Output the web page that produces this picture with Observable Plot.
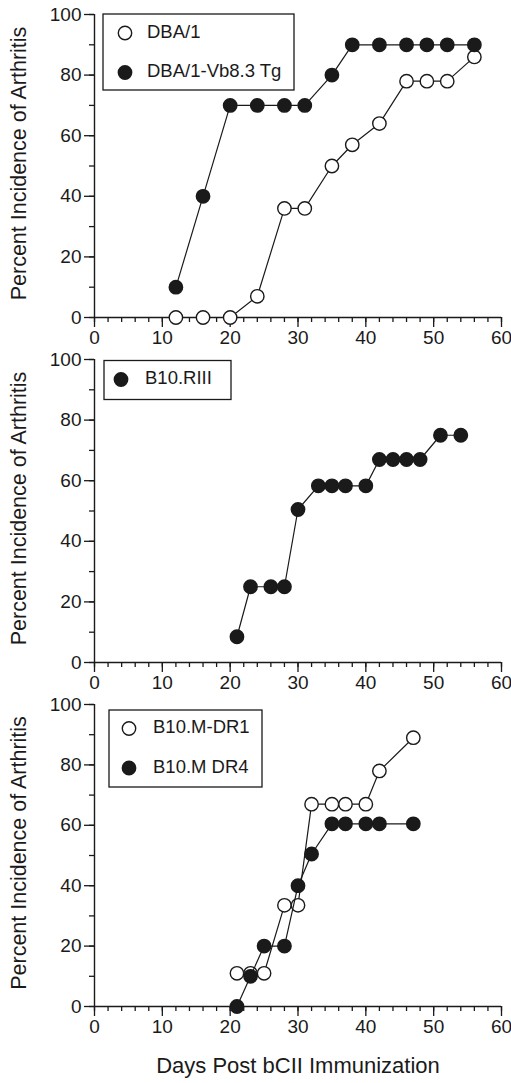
<!DOCTYPE html>
<html>
<head>
<meta charset="utf-8">
<script src="https://cdn.jsdelivr.net/npm/d3@7"></script>
<script src="https://cdn.jsdelivr.net/npm/@observablehq/plot@0.6"></script>
<style>
  html, body { margin: 0; padding: 0; background: #fff; }
  #chart svg { display: block; }
</style>
</head>
<body>
<div id="chart"></div>
<script>
// ---- Data ----
const dbaDays   = [12, 16, 20, 24, 28, 31, 35, 38, 42, 46, 49, 52, 56];
const dbaVals   = [0, 0, 0, 7, 36, 36, 50, 57, 64, 78, 78, 78, 86];
const tgDays    = [12, 16, 20, 24, 28, 31, 35, 38, 42, 46, 49, 52, 56];
const tgVals    = [10, 40, 70, 70, 70, 70, 80, 90, 90, 90, 90, 90, 90];
const riiiDays  = [21, 23, 26, 28, 30, 33, 35, 37, 40, 42, 44, 46, 48, 51, 54];
const riiiVals  = [8.5, 25, 25, 25, 50.5, 58.3, 58.3, 58.3, 58.3, 67, 67, 67, 67, 75, 75];
const dr1Days   = [21, 23, 25, 28, 30, 32, 35, 37, 40, 42, 47];
const dr1Vals   = [11, 11, 11, 33.5, 33.5, 67, 67, 67, 67, 78, 89];
const dr4Days   = [21, 23, 25, 28, 30, 32, 35, 37, 40, 42, 47];
const dr4Vals   = [0, 10, 20, 20, 40, 50.5, 60.5, 60.5, 60.5, 60.5, 60.5];

const xMajor = [0, 10, 20, 30, 40, 50, 60];
const yMajor = [0, 20, 40, 60, 80, 100];
const xLabel = "Days Post bCII Immunization";
const yLabel = "Percent Incidence of Arthritis";

const toRows = (days, vals) => days.map((d, i) => ({day: d, pct: vals[i]}));

const INK = "#1a1a1a";
const FONT = "'Liberation Sans', Arial, Helvetica, sans-serif";

function panel({series, height, marginTop, marginBottom, legend, showXLabel}) {
  const marks = [
    Plot.axisX(d3.range(0, 61, 2), {tickSize: 5, text: null, label: null, stroke: INK, strokeWidth: 1.3}),
    Plot.axisX(xMajor, {tickSize: 10, tickPadding: 3, label: null, fontSize: 19, stroke: INK, strokeWidth: 1.3, color: INK, tickFormat: d => String(d)}),
    Plot.axisY(d3.range(0, 101, 10), {tickSize: 5, text: null, label: null, stroke: INK, strokeWidth: 1.3}),
    Plot.axisY(yMajor, {tickSize: 10, tickPadding: 3, label: null, fontSize: 19, stroke: INK, strokeWidth: 1.3, color: INK, tickFormat: d => String(d)}),
    Plot.ruleY([0], {stroke: INK, strokeWidth: 1.4}),
    Plot.ruleX([0], {stroke: INK, strokeWidth: 1.4})
  ];
  for (const s of series) {
    const rows = toRows(s.days, s.vals);
    marks.push(Plot.line(rows, {x: "day", y: "pct", stroke: INK, strokeWidth: 1.2}));
    marks.push(Plot.dot(rows, {x: "day", y: "pct", r: 6.7, fill: s.open ? "white" : INK, stroke: INK, strokeWidth: 1.4}));
  }
  const svg = Plot.plot({
    width: 511,
    height,
    marginLeft: 94,
    marginRight: 10,
    marginTop,
    marginBottom,
    style: {fontFamily: FONT, fontSize: "19px", color: INK, background: "white", overflow: "visible"},
    x: {domain: [0, 60]},
    y: {domain: [0, 100]},
    marks
  });
  const sel = d3.select(svg);
  const innerTop = marginTop, innerBottom = height - marginBottom;
  // y-axis title
  sel.append("text")
    .attr("transform", `translate(20,${(innerTop + innerBottom) / 2 - 2}) rotate(-90)`)
    .attr("text-anchor", "middle")
    .attr("dominant-baseline", "middle")
    .style("font-family", FONT)
    .style("font-size", "21.5px")
    .attr("fill", INK)
    .text(yLabel);
  // legend
  const g = sel.append("g");
  g.append("rect")
    .attr("x", legend.x).attr("y", legend.y)
    .attr("width", legend.w).attr("height", legend.h)
    .attr("fill", "white").attr("stroke", INK).attr("stroke-width", 1.3);
  series.forEach((s, i) => {
    const cy = legend.y + legend.first + i * legend.step;
    g.append("circle")
      .attr("cx", legend.cx).attr("cy", cy).attr("r", 6.7)
      .attr("fill", s.open ? "white" : INK)
      .attr("stroke", INK).attr("stroke-width", 1.4);
    g.append("text")
      .attr("x", legend.tx).attr("y", cy)
      .attr("text-anchor", "start")
      .attr("dominant-baseline", "middle")
      .style("font-family", FONT).style("font-size", "18.5px")
      .attr("fill", INK)
      .text(s.name);
  });
  if (showXLabel) {
    sel.append("text")
      .attr("x", 298).attr("y", innerBottom + 61)
      .attr("text-anchor", "middle")
      .attr("dominant-baseline", "middle")
      .style("font-family", FONT).style("font-size", "22px")
      .attr("fill", INK)
      .text(xLabel);
  }
  return svg;
}

const chart = document.getElementById("chart");
chart.appendChild(panel({
  series: [
    {name: "DBA/1", days: dbaDays, vals: dbaVals, open: true},
    {name: "DBA/1-Vb8.3 Tg", days: tgDays, vals: tgVals, open: false}
  ],
  height: 350, marginTop: 14, marginBottom: 33,
  legend: {x: 103, y: 14, w: 191, h: 76, cx: 125, tx: 147, first: 19, step: 39.5}
}));
chart.appendChild(panel({
  series: [
    {name: "B10.RIII", days: riiiDays, vals: riiiVals, open: false}
  ],
  height: 345, marginTop: 9, marginBottom: 33,
  legend: {x: 104, y: 10.5, w: 127, h: 39, cx: 121, tx: 145, first: 19, step: 0}
}));
chart.appendChild(panel({
  series: [
    {name: "B10.M-DR1", days: dr1Days, vals: dr1Vals, open: true},
    {name: "B10.M DR4", days: dr4Days, vals: dr4Vals, open: false}
  ],
  height: 388, marginTop: 9, marginBottom: 77,
  legend: {x: 109, y: 15, w: 153, h: 77, cx: 129, tx: 153, first: 18.5, step: 39.5},
  showXLabel: true
}));
</script>
</body>
</html>
